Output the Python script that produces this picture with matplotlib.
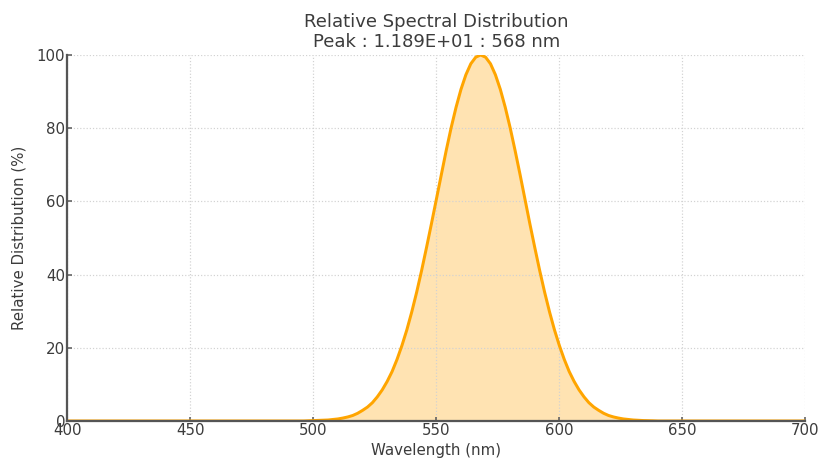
import numpy as np
import matplotlib
matplotlib.use('Agg')
import matplotlib.pyplot as plt

# Relative spectral distribution, sampled every 2 nm
wavelength = np.arange(400, 701, 2)
rel_dist = np.zeros(len(wavelength))

# non-zero part of the band, 496-640 nm
band_start = 496
band_values = [0.0, 0.05, 0.1, 0.12, 0.2, 0.27, 0.4, 0.56, 0.8, 1.1,
               1.5, 2.1, 2.9, 3.8, 5.0, 6.6, 8.5, 10.8, 13.5, 16.8,
               20.6, 24.9, 29.8, 35.2, 41.1, 47.4, 53.9, 60.6, 67.4, 73.9,
               80.1, 85.7, 90.6, 94.6, 97.6, 99.4, 100.0, 99.4, 97.6, 94.6,
               90.6, 85.7, 80.1, 73.9, 67.4, 60.6, 53.9, 47.4, 41.1, 35.2,
               29.8, 24.9, 20.6, 16.8, 13.5, 10.8, 8.5, 6.6, 5.0, 3.8,
               2.9, 2.1, 1.5, 1.1, 0.8, 0.56, 0.4, 0.27, 0.2, 0.12,
               0.1, 0.05, 0.0]
i0 = int((band_start - wavelength[0]) / 2)
rel_dist[i0:i0 + len(band_values)] = band_values

peak_value = 1.189E+01
peak_nm = 568

x_ticks = [400, 450, 500, 550, 600, 650, 700]
y_ticks = [0, 20, 40, 60, 80, 100]

text_col = '#3c3c3c'
spine_col = '#555555'

fig = plt.figure(figsize=(821 / 108, 466 / 108), dpi=108)
ax = fig.add_axes([0.082, 0.0966, 0.899, 0.7854])

ax.fill_between(wavelength, rel_dist, color='orange', alpha=0.3, lw=0)
ax.plot(wavelength, rel_dist, color='orange', lw=2)

ax.set_xlim(400, 700)
ax.set_ylim(0, 100)
ax.set_xticks(x_ticks)
ax.set_yticks(y_ticks)

ax.grid(True, linestyle=':', color='#d2d2d2', lw=0.8)
for side in ['top', 'right']:
    ax.spines[side].set_visible(False)
for side in ['left', 'bottom']:
    ax.spines[side].set_color(spine_col)
    ax.spines[side].set_linewidth(1.5)

ax.tick_params(direction='in', length=3, width=1, color=spine_col,
               labelcolor=text_col, labelsize=10, pad=1.5)

ax.set_xlabel('Wavelength (nm)', color=text_col, fontsize=10, labelpad=3)
ax.set_ylabel('Relative Distribution (%)', color=text_col, fontsize=10, labelpad=7)
ax.set_title(f'Relative Spectral Distribution\nPeak : {peak_value:.3E} : {peak_nm} nm',
             color=text_col, fontsize=12, pad=5, linespacing=1.15)

fig.savefig('out.png', dpi=108, facecolor='white')
